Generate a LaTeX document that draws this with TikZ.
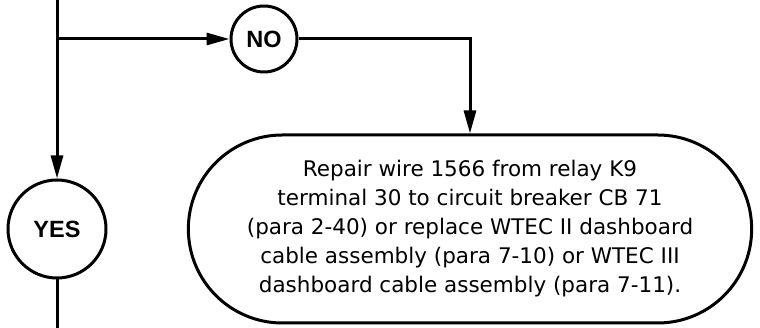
\documentclass[tikz,border=0pt]{standalone}
\usepackage{fontspec}
\setmainfont{DejaVu Sans}
\newfontfamily\boldsans{Liberation Sans}
\usetikzlibrary{shapes.misc,arrows.meta}
\begin{document}
\begin{tikzpicture}[x=1pt,y=-1pt,
  line width=3pt,
  decision/.style={draw,circle,inner sep=0pt,font=\boldsans\bfseries\fontsize{23.5}{25}\selectfont},
  endbox/.style={draw,rounded rectangle,minimum width=570pt,minimum height=188pt,align=center,font=\fontsize{21.5}{29}\selectfont},
  arr/.style={-{Triangle[length=23pt,width=12pt]}}]
\useasboundingbox (0,0) rectangle (760,328);
\coordinate (top) at (57,-5);
\coordinate (junc) at (57,39);
\coordinate (bot) at (57,333);
\coordinate (corner) at (470,39);
\node[decision,minimum size=66pt] (no) at (264,39) {NO};
\node[decision,minimum size=98pt] (yes) at (57,229) {YES};
\node[endbox] (repair) at (470,229) {Repair wire 1566 from relay K9\\terminal 30 to circuit breaker CB 71\\(para 2-40) or replace WTEC II dashboard\\cable assembly (para 7-10) or WTEC III\\dashboard cable assembly (para 7-11).};
\draw (top) -- (junc);
\draw[arr] (junc) -- (no);
\draw[arr] (junc) -- (yes);
\draw[arr] (no) -- (corner) -- (repair.north -| corner);
\draw (yes) -- (bot);
\end{tikzpicture}
\end{document}
